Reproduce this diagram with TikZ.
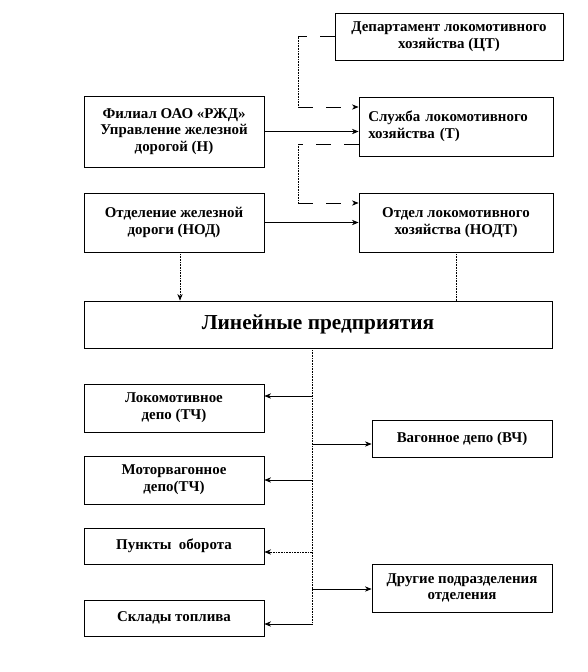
\documentclass[tikz,border=0pt]{standalone}
\usepackage{fontspec}
\setmainfont{Liberation Serif}
\usetikzlibrary{arrows.meta}
\tikzset{
  bx/.style  = {rectangle, draw=black, line width=0.6pt, fill=white,
                inner sep=2pt, align=center,
                font=\fontsize{11.2}{12.6}\selectfont\bfseries},
  ed/.style  = {-{Stealth[length=5pt,width=4pt]}, line width=0.5pt},
  edo/.style = {ed, dash pattern=on 0.6pt off 0.6pt},
  dsh/.style = {line width=0.5pt, dash pattern=on 11pt off 10pt},
  dts/.style = {line width=0.5pt, dash pattern=on 0.6pt off 0.6pt},
}
\begin{document}
\begin{tikzpicture}[x=0.75pt,y=-0.75pt]
  \useasboundingbox (0,0) rectangle (588,672);
  % upper levels
  \node[bx, minimum width=171pt, minimum height=35.25pt] (ct) at (449,36.5)
    {Департамент локомотивного\\хозяйства (ЦТ)};
  \node[bx, align=left, inner xsep=7pt, text width=131.5pt, minimum height=44.25pt]
    (t) at (456,126.5) {Служба локомотивного\\хозяйства (Т)};
  \node[bx, minimum width=135pt, minimum height=53.25pt] (n) at (174,131.5)
    {Филиал ОАО «РЖД»\\Управление железной\\дорогой (Н)};
  \node[bx, minimum width=135pt, minimum height=44.25pt] (nod) at (174,222.5)
    {Отделение железной\\дороги (НОД)};
  \node[bx, minimum width=145.5pt, minimum height=44.25pt] (nodt) at (456,222.5)
    {Отдел локомотивного\\хозяйства (НОДТ)};
  \node[bx, minimum width=351pt, minimum height=35.25pt,
        font=\fontsize{16}{18}\selectfont\bfseries] (lp) at (318,324.5)
    {Линейные предприятия};
  % linear enterprises
  \node[bx, minimum width=135pt, minimum height=36pt] (tch) at (174,408)
    {Локомотивное\\депо (ТЧ)};
  \node[bx, minimum width=135pt, minimum height=36pt] (mv) at (174,480)
    {Моторвагонное\\депо(ТЧ)};
  \node[bx, minimum width=135pt, minimum height=27pt] (pob) at (174,546)
    {Пункты\ \ оборота};
  \node[bx, minimum width=135pt, minimum height=27pt] (skl) at (174,618)
    {Склады топлива};
  \node[bx, minimum width=135pt, minimum height=27.75pt] (vch) at (462,438.5)
    {Вагонное депо (ВЧ)};
  \node[bx, minimum width=135pt, minimum height=36pt] (dr) at (462,588)
    {Другие подразделения\\отделения};
  % dashed links to the upper service
  \coordinate (c1) at (298,36.5);
  \coordinate (c2) at (298,107);
  \coordinate (c3) at (298,144);
  \coordinate (c4) at (298,203);
  \draw[dsh] (ct.west) -- (c1);
  \draw[dts] (c1) -- (c2);
  \draw[dsh, -{Stealth[length=5pt,width=4pt]}] (c2) -- (c2 -| t.west);
  \draw[dsh] (t.west |- c3) -- (c3);
  \draw[dts] (c3) -- (c4);
  \draw[dsh, -{Stealth[length=5pt,width=4pt]}] (c4) -- (c4 -| nodt.west);
  % solid links
  \draw[ed] (n.east) -- (n.east -| t.west);
  \draw[ed] (nod.east) -- (nodt.west);
  \draw[edo] ([xshift=4.5pt]nod.south) -- ([xshift=4.5pt]nod.south |- lp.north);
  \draw[dts] (nodt.south) -- (nodt.south |- lp.north);
  % spine
  \coordinate (sb) at (312,624);
  \draw[dts] (lp.south -| sb) -- (sb);
  \foreach \nm/\yy/\sty in {tch/396/ed, mv/480/ed, pob/552/edo, skl/624/ed}{
    \coordinate (b\nm) at (312,\yy);
    \draw[\sty] (b\nm) -- (b\nm -| \nm.east);
  }
  \foreach \nm/\yy in {vch/444, dr/589}{
    \coordinate (b\nm) at (312,\yy);
    \draw[ed] (b\nm) -- (b\nm -| \nm.west);
  }
\end{tikzpicture}
\end{document}
